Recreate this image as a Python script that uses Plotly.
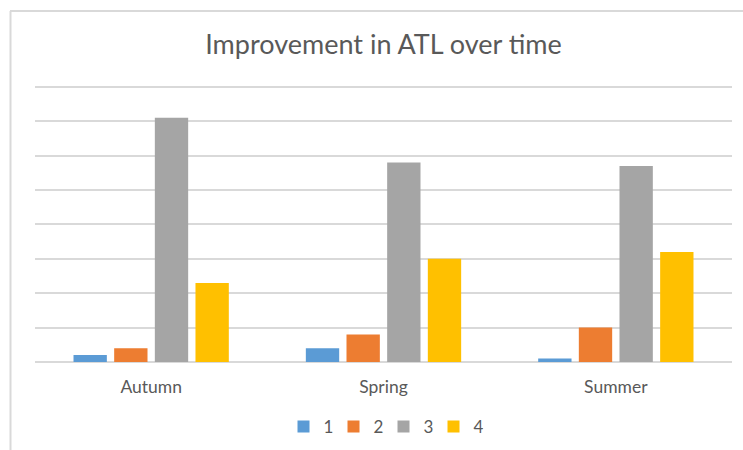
import plotly.graph_objects as go

categories = ["Autumn", "Spring", "Summer"]
series_names = ["1", "2", "3", "4"]
s1 = [0.2, 0.4, 0.1]
s2 = [0.4, 0.8, 1.0]
s3 = [7.1, 5.8, 5.7]
s4 = [2.3, 3.0, 3.2]
series_values = [s1, s2, s3, s4]
colors = ["#5b9bd5", "#ed7d31", "#a5a5a5", "#ffc000"]

W, H = 743, 450
ML, MR, MT, MB = 35, 11, 80, 88
pw = W - ML - MR
ph = H - MT - MB

fig = go.Figure()
for name, vals, c in zip(series_names, series_values, colors):
    fig.add_trace(go.Bar(x=categories, y=vals, name=name, marker=dict(color=c, line=dict(width=0))))

def px_x(p):
    return (p - ML) / pw

def px_y(p):
    return (H - MB - p) / ph

fig.update_layout(
    width=W, height=H,
    margin=dict(l=ML, r=MR, t=MT, b=MB, autoexpand=False),
    paper_bgcolor="white", plot_bgcolor="white",
    font=dict(family="Lato, Open Sans, sans-serif", color="#595959", size=13),
    title=dict(text="Improvement in ATL over time", x=0.5, xanchor="center",
               xref="paper", y=1 - 45 / H, yanchor="middle",
               font=dict(size=27, color="#595959")),
    barmode="group", bargap=0.30, bargroupgap=0.18,
    xaxis=dict(showgrid=False, showline=False, ticks="", ticklabelstandoff=12,
               automargin=False, tickfont=dict(size=17.5, color="#595959")),
    yaxis=dict(range=[0, 8.2], tickvals=[0, 1, 2, 3, 4, 5, 6, 7, 8],
               showticklabels=False, showgrid=True, automargin=False,
               gridcolor="#d9d9d9", gridwidth=1.5, zeroline=True,
               zerolinecolor="#d9d9d9", zerolinewidth=1.5, showline=False),
    legend=dict(orientation="h", x=0.5, xanchor="center", y=px_y(427),
                yanchor="middle", font=dict(size=17, color="#595959"),
                itemwidth=30, entrywidth=5, entrywidthmode="pixels",
                traceorder="normal"),
    showlegend=True,
    shapes=[
        dict(type="line", xref="paper", yref="paper", x0=px_x(10.5), x1=px_x(10.5),
             y0=px_y(11), y1=px_y(452), line=dict(color="#d9d9d9", width=2)),
        dict(type="line", xref="paper", yref="paper", x0=px_x(10), x1=px_x(745),
             y0=px_y(11), y1=px_y(11), line=dict(color="#d9d9d9", width=2)),
    ],
)

fig.write_html("out.html", config={"displayModeBar": False},
               post_script="document.body.style.margin='0';document.body.style.padding='0';")
